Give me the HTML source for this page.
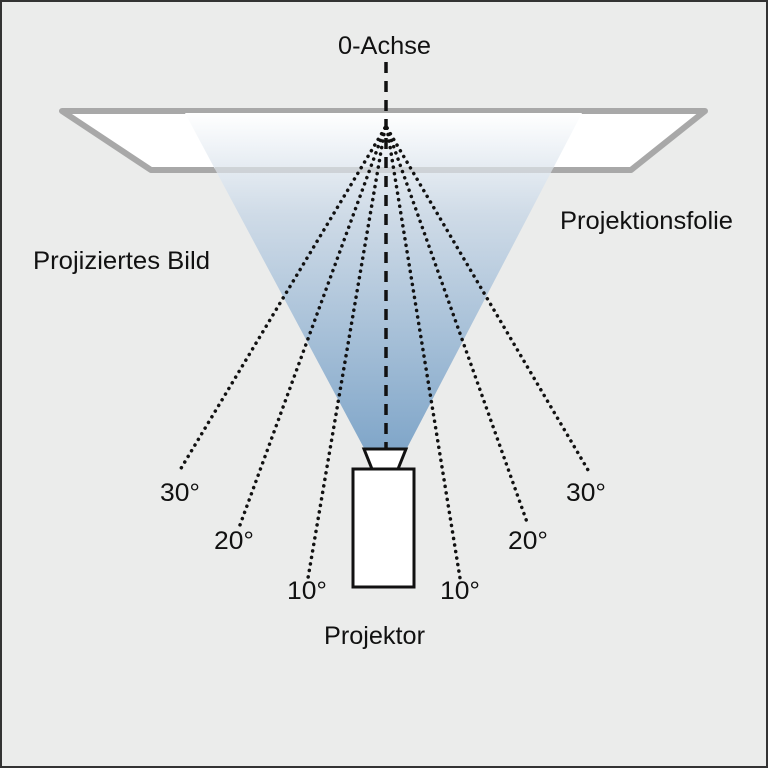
<!DOCTYPE html>
<html><head><meta charset="utf-8"><style>
html,body{margin:0;padding:0;background:#ebeceb}
svg{display:block}
text{font-family:"Liberation Sans Narrow","Liberation Sans",sans-serif;font-size:25px;fill:#111}
</style></head><body>
<svg width="768" height="768" viewBox="0 0 768 768">
<defs>
<linearGradient id="g" x1="0" y1="0" x2="0" y2="1">
<stop offset="0" stop-color="#ffffff"/>
<stop offset="0.3" stop-color="#cfdbe7"/>
<stop offset="1" stop-color="#80a6c9"/>
</linearGradient>
</defs>
<rect x="1" y="1" width="766" height="766" fill="#ebeceb" stroke="#333" stroke-width="2"/>
<polygon points="62,111 705,111 631,170 151,170" fill="#fff" stroke="#a8a8a8" stroke-width="6" stroke-linejoin="round"/>
<polygon points="185,113 582,113 406,450 365,450" fill="url(#g)"/>
<line x1="215" y1="170" x2="553" y2="170" stroke="#a8a8a8" stroke-width="6" opacity="0.35"/>
<g stroke="#111" stroke-width="3.5" stroke-dasharray="0.1 6.5" stroke-linecap="round" fill="none">
<line x1="385" y1="128" x2="180" y2="470"/>
<line x1="385" y1="128" x2="240" y2="525"/>
<line x1="385" y1="128" x2="308" y2="578"/>
<line x1="387" y1="128" x2="460" y2="578"/>
<line x1="387" y1="128" x2="528" y2="525"/>
<line x1="387" y1="128" x2="588" y2="470"/>
</g>
<line x1="386" y1="62" x2="386" y2="448" stroke="#111" stroke-width="3.5" stroke-dasharray="11 8"/>
<polygon points="364,449 406,449 398,469 372,469" fill="#fff" stroke="#111" stroke-width="3"/>
<rect x="353" y="469" width="61" height="118" fill="#fff" stroke="#111" stroke-width="3"/>
<text x="338" y="54" textLength="93" lengthAdjust="spacingAndGlyphs">0-Achse</text>
<text x="560" y="229" textLength="173" lengthAdjust="spacingAndGlyphs">Projektionsfolie</text>
<text x="33" y="269" textLength="177" lengthAdjust="spacingAndGlyphs">Projiziertes Bild</text>
<text x="160" y="501" textLength="40" lengthAdjust="spacingAndGlyphs">30°</text>
<text x="214" y="549" textLength="40" lengthAdjust="spacingAndGlyphs">20°</text>
<text x="287" y="599" textLength="40" lengthAdjust="spacingAndGlyphs">10°</text>
<text x="440" y="599" textLength="40" lengthAdjust="spacingAndGlyphs">10°</text>
<text x="508" y="549" textLength="40" lengthAdjust="spacingAndGlyphs">20°</text>
<text x="566" y="501" textLength="40" lengthAdjust="spacingAndGlyphs">30°</text>
<text x="324" y="644" textLength="101" lengthAdjust="spacingAndGlyphs">Projektor</text>
</svg>
</body></html>
